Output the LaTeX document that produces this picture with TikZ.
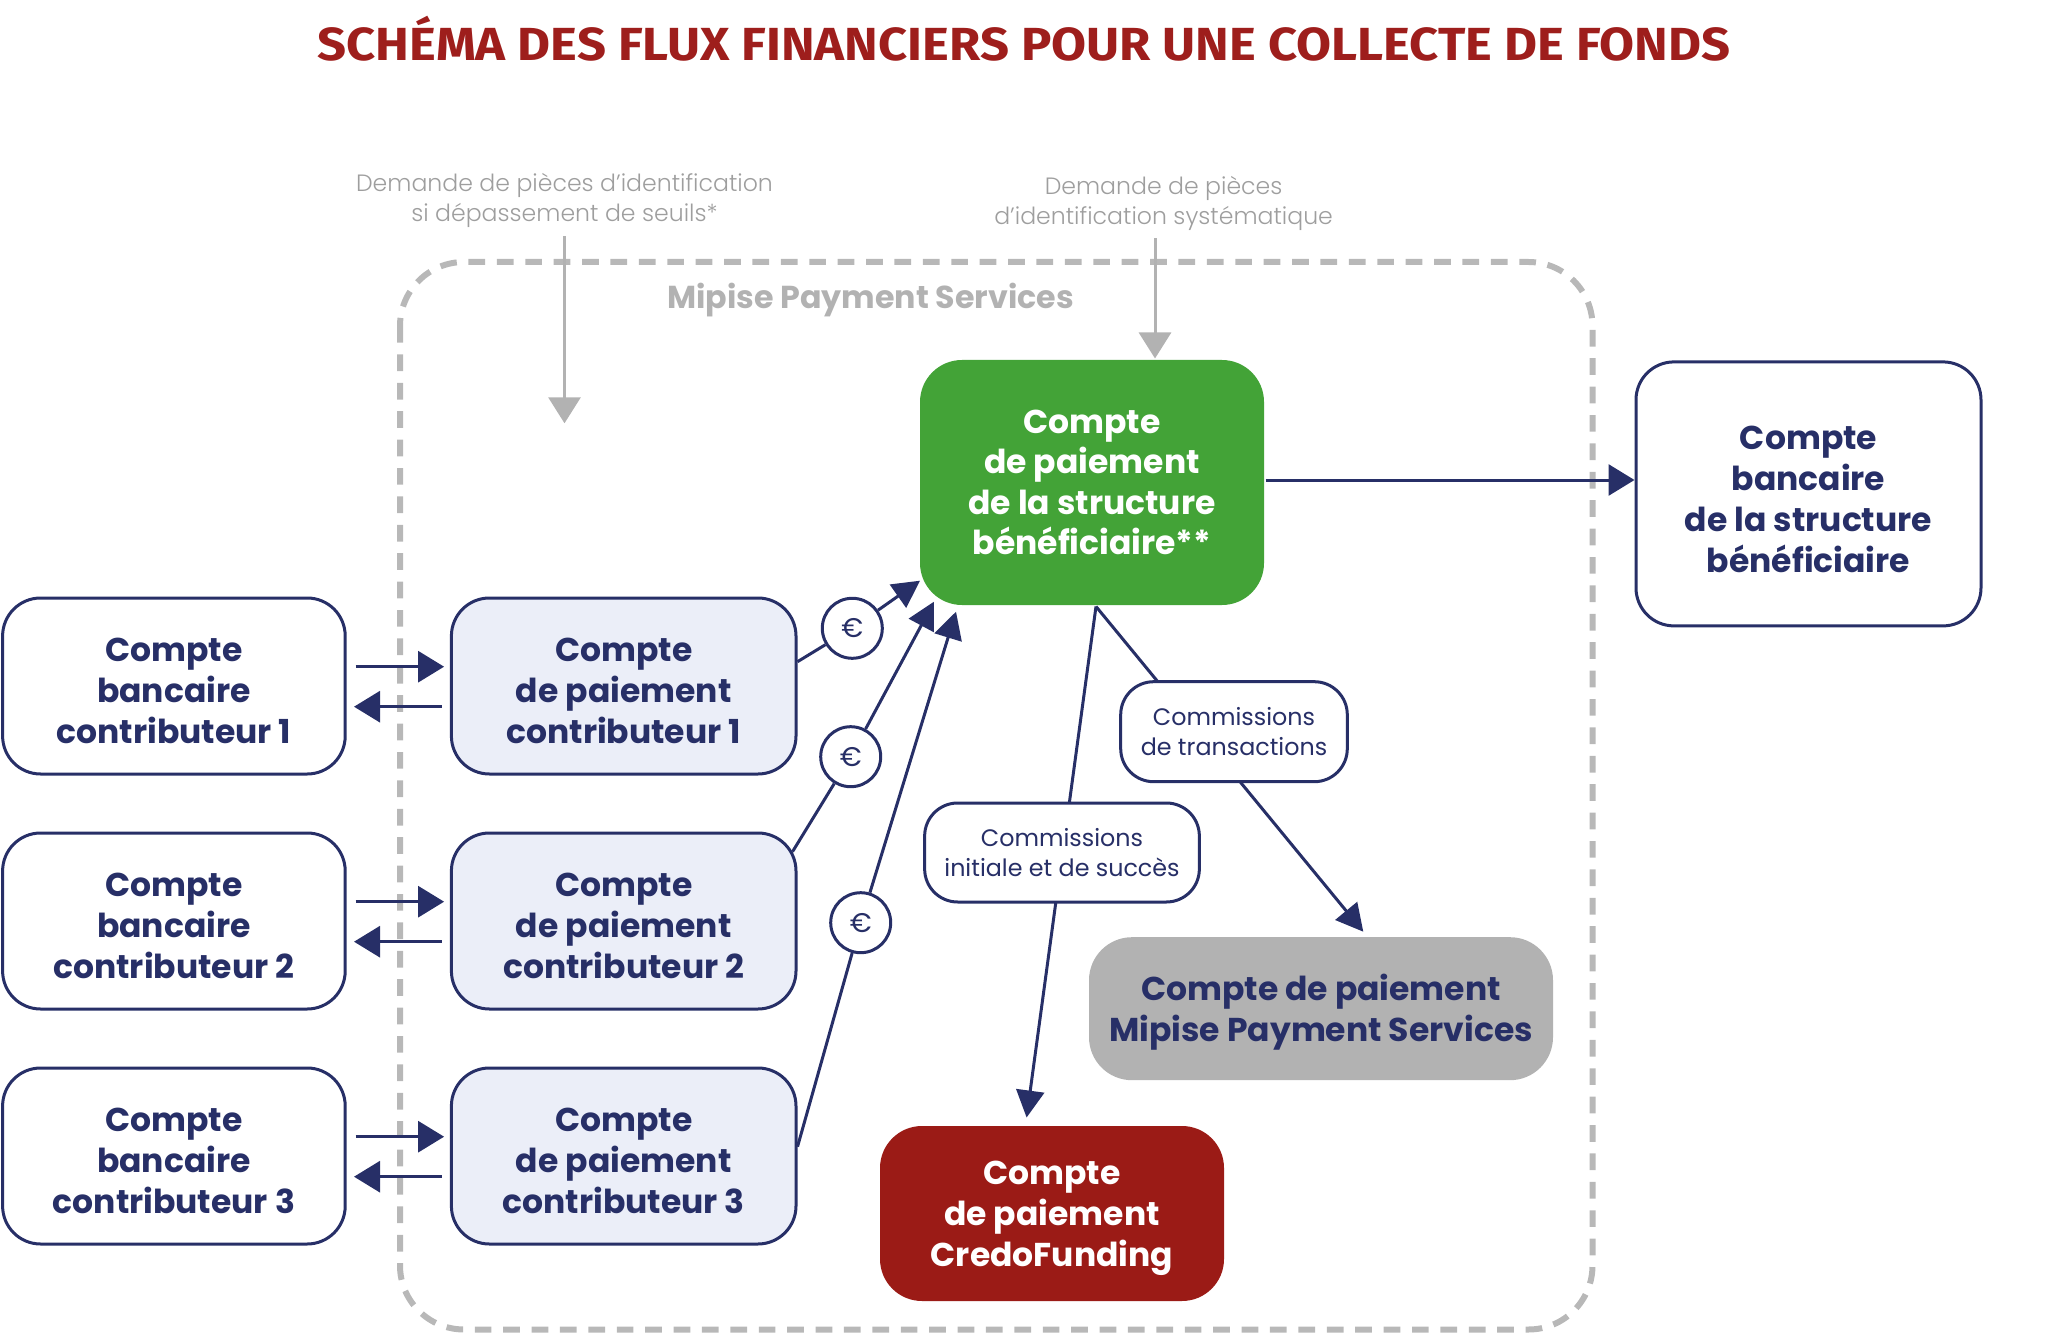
\documentclass[tikz,border=0pt]{standalone}
\usepackage{graphicx}
\usepackage{fontspec}
\setmainfont{Poppins}
\newfontfamily\lightfont{Poppins Light}
\newfontfamily\titlefont{Fira Sans}
\usetikzlibrary{arrows.meta}
\definecolor{navy}{RGB}{39,47,103}
\definecolor{lightfill}{RGB}{235,238,248}
\definecolor{mygreen}{RGB}{67,163,55}
\definecolor{myred}{RGB}{155,27,22}
\definecolor{titlered}{RGB}{158,30,28}
\definecolor{boxgray}{RGB}{178,178,178}
\definecolor{dashgray}{RGB}{184,184,184}
\definecolor{textgray}{RGB}{158,158,158}
\newcommand\tst{\rule{0pt}{34bp}}
\tikzset{
  acct/.style={draw=navy, line width=3bp, rounded corners=38bp, text=navy, fill=white,
    font=\fontsize{33bp}{41bp}\selectfont\bfseries, align=center, inner sep=0pt},
  paycontrib/.style={acct, fill=lightfill},
  greenbox/.style={acct, draw=none, fill=mygreen, text=white, rounded corners=42bp,
    font=\fontsize{33bp}{40.5bp}\selectfont\bfseries},
  redbox/.style={acct, draw=none, fill=myred, text=white, rounded corners=42bp},
  graybox/.style={acct, draw=none, fill=boxgray, rounded corners=43bp},
  comlabel/.style={draw=navy, line width=3bp, rounded corners=33bp, fill=white, text=navy,
    font=\fontsize{23.8bp}{30bp}\selectfont, align=center, inner sep=0pt},
  euro/.style={circle, draw=navy, line width=3bp, fill=white, text=navy, minimum size=60bp,
    inner sep=0pt, font=\fontsize{27bp}{30bp}\selectfont},
  graytext/.style={text=textgray, font=\lightfont\fontsize{23.6bp}{30bp}\selectfont, align=center, inner sep=0pt},
  nline/.style={draw=navy, line width=3bp},
  narr/.style={nline, -{Triangle[length=26bp,width=31bp]}},
  narrs/.style={nline, -{Triangle[length=27bp,width=28bp]}},
  garr/.style={draw=boxgray, line width=3bp, -{Triangle[length=26bp,width=32bp]}},
  mpsframe/.style={draw=dashgray, line width=6bp, dash pattern=on 16.7bp off 11.7bp, rounded corners=64bp}
}
\begin{document}
\begin{tikzpicture}[x=1bp,y=-1bp]
\useasboundingbox (0,0) rectangle (2048,1334);

% title
\node[anchor=base, text=titlered, inner sep=0pt, font=\titlefont\bfseries\fontsize{46.4bp}{50bp}\selectfont] (title) at (1024,60.7)
  {\resizebox{1413bp}{\height}{SCHÉMA DES FLUX FINANCIERS POUR UNE COLLECTE DE FONDS}};

% Mipise frame
\draw[mpsframe] (400,262) rectangle (1592.5,1329.5);
\node[text=boxgray, inner sep=0pt, font=\fontsize{31.7bp}{36bp}\selectfont\bfseries] (mps) at (870.5,300.5) {Mipise Payment Services};

% gray request labels
\node[graytext] (lblA) at (564.5,200.7) {Demande de pièces d’identification\\si dépassement de seuils*};
\node[graytext] (lblB) at (1163.6,203) {Demande de pièces\\d’identification systématique};

% accounts
\node[acct, minimum width=342.6bp, minimum height=176bp] (cb1) at (173.9,686) {\tst Compte\\bancaire\\contributeur 1};
\node[acct, minimum width=342.6bp, minimum height=176bp] (cb2) at (173.9,921) {\tst Compte\\bancaire\\contributeur 2};
\node[acct, minimum width=342.6bp, minimum height=176bp] (cb3) at (173.9,1156) {\tst Compte\\bancaire\\contributeur 3};
\node[paycontrib, minimum width=344.6bp, minimum height=176bp] (cp1) at (623.7,686) {\tst Compte\\de paiement\\contributeur 1};
\node[paycontrib, minimum width=344.6bp, minimum height=176bp] (cp2) at (623.7,921) {\tst Compte\\de paiement\\contributeur 2};
\node[paycontrib, minimum width=344.6bp, minimum height=176bp] (cp3) at (623.7,1156) {\tst Compte\\de paiement\\contributeur 3};

\node[greenbox, minimum width=344bp, minimum height=245bp] (green) at (1092,482.5) {Compte\\de paiement\\de la structure\\bénéficiaire**};
\node[acct, minimum width=345bp, minimum height=264bp] (rb) at (1808.5,493.9) {\tst Compte\\bancaire\\de la structure\\bénéficiaire};
\node[graybox, minimum width=464bp, minimum height=143bp] (gb) at (1321,1008.7) {\tst Compte de paiement\\Mipise Payment Services};
\node[redbox, minimum width=344bp, minimum height=175bp] (red) at (1052,1213.5) {\tst Compte\\de paiement\\CredoFunding};

% gray request arrows
\coordinate (aA) at (564.5,423.3);
\coordinate (aB) at ([xshift=63bp]green.north);
\draw[garr, shorten <=8bp] (lblA.south) -- (aA);
\draw[garr, shorten <=8bp] (lblB.south -| aB) -- (aB);

% bank <-> payment arrows
\foreach \i in {1,2,3}{
  \draw[narr, shorten <=9bp, shorten >=5.8bp] ([yshift=19.3bp]cb\i.east) -- ([yshift=19.3bp]cp\i.west);
  \draw[narr, shorten <=8bp, shorten >=7.3bp] ([yshift=-20.7bp]cp\i.west) -- ([yshift=-20.7bp]cb\i.east);
}

% green -> bank of the structure
\draw[narr] ([yshift=2.5bp]green.east) -- ([yshift=2.5bp]green.east -| rb.west);

% euro flows
\node[euro] (e1) at (852.3,628.3) {€};
\node[euro] (e2) at (850.7,756.7) {€};
\node[euro] (e3) at (860.7,922.7) {€};
\coordinate (t1) at (920,580.7);
\coordinate (t2) at (934,601.7);
\coordinate (t3) at (956,611.7);
\draw[nline] ([yshift=24.3bp]cp1.east) -- (e1);
\draw[narrs] (e1) -- (t1);
\draw[nline] ([xshift=-5bp,yshift=69.3bp]cp2.east) -- (e2);
\draw[narrs] (e2) -- (t2);
\draw[nline] ([yshift=9.3bp]cp3.east) -- (e3);
\draw[narrs] (e3) -- (t3);

% commissions
\draw[narrs] ([xshift=4bp]green.south) -- ([xshift=-25.4bp,yshift=7bp]red.north);
\draw[narrs] ([xshift=4bp]green.south) -- ([xshift=42.3bp,yshift=4bp]gb.north);
\node[comlabel, minimum width=274.7bp, minimum height=99bp] (li) at (1062,852.5) {Commissions\\initiale et de succès};
\node[comlabel, minimum width=226.6bp, minimum height=100bp] (lt) at (1234,731.7) {Commissions\\de transactions};
\end{tikzpicture}
\end{document}
